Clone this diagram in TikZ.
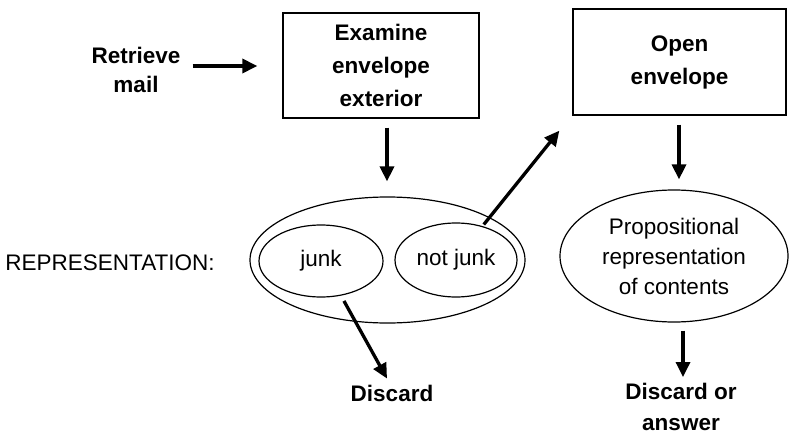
\documentclass[tikz,border=0pt]{standalone}
\usepackage{fontspec}
\setmainfont{Liberation Sans}
\usetikzlibrary{arrows.meta,shapes.geometric}
\begin{document}
\begin{tikzpicture}[x=1pt,y=-1pt,
  lbl/.style={font=\fontsize{22.5}{29}\selectfont\bfseries, align=center, inner sep=0pt},
  reg/.style={font=\fontsize{22.5}{30}\selectfont, align=center, inner sep=0pt},
  box/.style={draw, line width=1.3pt, inner sep=0pt, align=center, font=\fontsize{22.5}{33}\selectfont\bfseries},
  ell/.style={draw, ellipse, line width=1.2pt, inner sep=0pt, align=center, font=\fontsize{22.5}{30}\selectfont},
  arr/.style={line width=3.3pt, -{Triangle[length=15pt,width=14pt]}}]
\useasboundingbox (0,0) rectangle (789,436);

\node[lbl] (retrieve) at (136,70) {Retrieve\\mail};
\node[box, minimum width=196pt, minimum height=105pt] (exam) at (381,65.5) {Examine\\envelope\\exterior};
\node[box, minimum width=213pt, minimum height=106pt] (open) at (679.5,62) {Open\\envelope};

\node[reg] (repr) at (110,263) {REPRESENTATION:};
\node[ell, minimum width=275pt, minimum height=126pt] (outer) at (387.5,260) {};
\node[ell, minimum width=124pt, minimum height=72pt] (junk) at (321,261) {junk};
\node[ell, minimum width=122pt, minimum height=74pt] (notjunk) at (456,260) {not junk};
\node[ell, minimum width=228pt, minimum height=132pt] (prop) at (674,256) {Propositional\\representation\\of contents};

\node[lbl] (discard) at (392,393) {Discard};
\node[lbl, font=\fontsize{22.5}{31}\selectfont\bfseries] (answer) at (681,407) {Discard or\\answer};

\draw[arr, shorten <=12pt] ([yshift=4pt]retrieve.east) -- ([xshift=-25pt,yshift=4pt]retrieve.east -| exam.west);
\draw[arr, shorten <=9pt, shorten >=15pt] ([xshift=6pt]exam.south) -- ([xshift=6pt]exam.south |- outer.north);
\draw[arr, shorten <=9pt, shorten >=10pt] ([xshift=-0.5pt]open.south) -- ([xshift=-0.5pt]open.south |- prop.north);
\draw[arr, shorten <=2pt] (notjunk.52) -- ([xshift=-13pt,yshift=-15pt]open.south west);
\draw[arr, shorten <=6pt] (junk.-60) -- ([xshift=-5pt,yshift=6pt]discard.north);
\draw[arr, shorten <=8pt] ([xshift=9pt]prop.south) -- ([xshift=2pt,yshift=6pt]answer.north);
\end{tikzpicture}
\end{document}
